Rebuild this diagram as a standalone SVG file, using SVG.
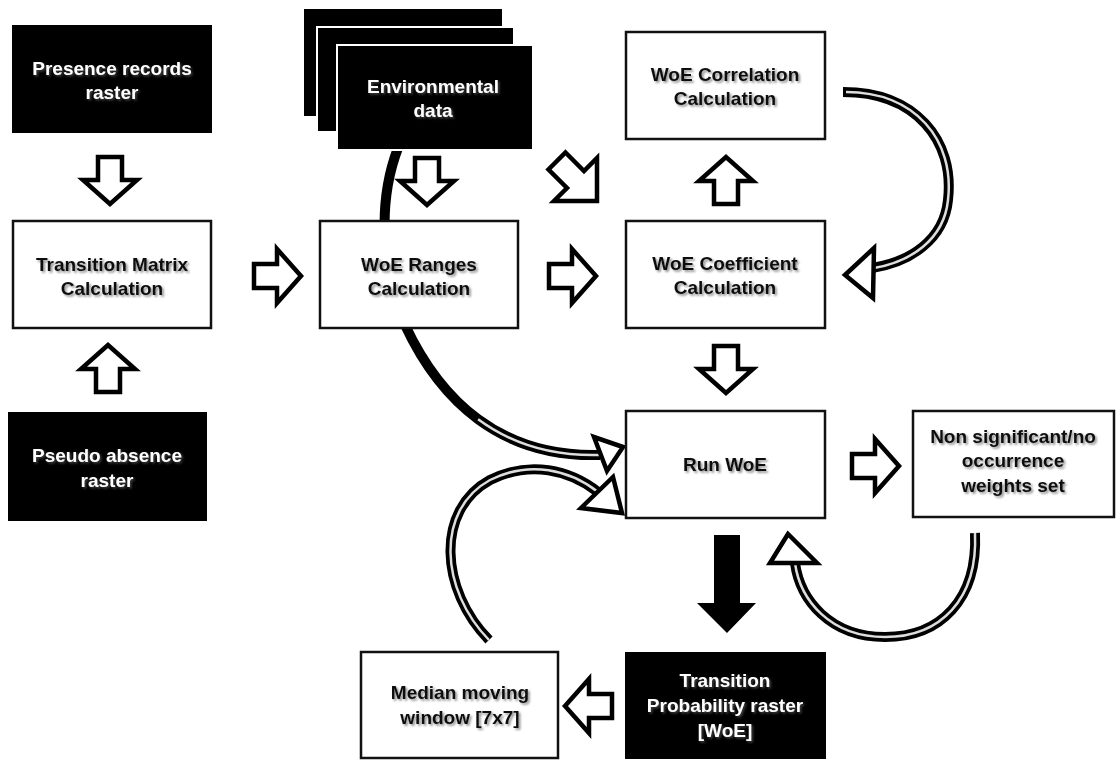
<svg xmlns="http://www.w3.org/2000/svg" xmlns:xlink="http://www.w3.org/1999/xlink" width="1120" height="760" viewBox="0 0 1120 760">
<style>
.wbox{fill:#fff;stroke:#111;stroke-width:2.5}
.bbox{fill:#000}
.stk{fill:#000;stroke:#fff;stroke-width:2}
.t{font-family:"Liberation Sans",Arial,sans-serif;font-weight:bold;font-size:19px;text-anchor:middle}
.dk{fill:#111;filter:url(#sh)}
.lt{fill:#fff;filter:url(#sh2)}
.blk{fill:#fff;stroke:#000;stroke-width:4.5;stroke-linejoin:miter}
.sh-o{fill:none;stroke:#000;stroke-width:10;stroke-linecap:butt}
.sh-i{fill:none;stroke:#ddd;stroke-width:2.5;stroke-linecap:butt}
.hd{fill:#fff;stroke:#000;stroke-width:4.5;stroke-linejoin:miter}
</style>
<defs>
<filter id="sh" x="-10%" y="-30%" width="130%" height="170%"><feDropShadow dx="1.8" dy="1.8" stdDeviation="1.2" flood-color="#000" flood-opacity="0.45"/></filter>
<filter id="sh2" x="-10%" y="-30%" width="130%" height="170%"><feDropShadow dx="1.5" dy="1.5" stdDeviation="1" flood-color="#888" flood-opacity="0.5"/></filter>
<path id="ba" d="M-23,-12 L0,-12 L0,-27 L24,0 L0,27 L0,12 L-23,12 Z"/>
</defs>
<rect width="1120" height="760" fill="#fff"/>

<g id="connectors">
  <!-- block arrows -->
  <use xlink:href="#ba" class="blk" transform="translate(110,180) rotate(90)"/>
  <use xlink:href="#ba" class="blk" transform="translate(108,369) rotate(-90)"/>
  <use xlink:href="#ba" class="blk" transform="translate(277,276)"/>
  <use xlink:href="#ba" class="blk" transform="translate(427,181) rotate(90)"/>
  <polygon class="blk" points="565.5,152.5 584,171 597,158 597,201 554,201 567,188 548.5,169.5"/>
  <use xlink:href="#ba" class="blk" transform="translate(572,276)"/>
  <use xlink:href="#ba" class="blk" transform="translate(726,181) rotate(-90)"/>
  <use xlink:href="#ba" class="blk" transform="translate(726,369) rotate(90)"/>
  <use xlink:href="#ba" class="blk" transform="translate(875,466)"/>
  <use xlink:href="#ba" class="blk" transform="translate(589,706) rotate(180)"/>
  <!-- solid black arrow -->
  <polygon points="714,535 740,535 740,603 756,603 727,633 697,603 714,603" fill="#000"/>
  <!-- curved: correlation -> coefficient -->
  <path class="sh-o" d="M843,92 C915,92 955,140 948,200 C944,240 910,262 872,268"/>
  <path class="sh-i" d="M846,92 C915,92 955,140 948,200 C944,240 910,262 874,268"/>
  <polygon class="hd" points="845,275 874,248 873,298"/>
  <!-- curved: environmental data -> run WoE -->
  <path class="sh-o" d="M398,148 C380,195 378,260 405,325 C440,400 500,458 600,455"/>
  <path class="sh-i" d="M478.1,419.25 C510,442.75 550,456.5 600,455"/>
  <polygon class="hd" points="623,447 594,437 607,471"/>
  <!-- curved: median -> run WoE -->
  <path class="sh-o" d="M489,640 C440,590 435,510 490,480 C530,460 570,470 598,492"/>
  <path class="sh-i" d="M489,640 C440,590 435,510 490,480 C530,460 570,470 598,492"/>
  <polygon class="hd" points="622,513 613,477 581,508"/>
  <!-- curved: non significant -> run WoE -->
  <path class="sh-o" d="M975,533 C978,600 940,637 885,637 C830,637 800,600 795,563"/>
  <path class="sh-i" d="M975,533 C978,600 940,637 885,637 C830,637 800,600 795,563"/>
  <polygon class="hd" points="788,534 770,563 817,563"/>
</g>

<g id="presence">
  <rect class="bbox" x="12" y="25" width="200" height="108"/>
  <text class="t lt" x="112" y="75">Presence records</text>
  <text class="t lt" x="112" y="99">raster</text>
</g>
<g id="transition-matrix">
  <rect class="wbox" x="13" y="221" width="198" height="107"/>
  <text class="t dk" x="112" y="271">Transition Matrix</text>
  <text class="t dk" x="112" y="295">Calculation</text>
</g>
<g id="pseudo-absence">
  <rect class="bbox" x="8" y="412" width="199" height="109"/>
  <text class="t lt" x="107" y="462">Pseudo absence</text>
  <text class="t lt" x="107" y="487">raster</text>
</g>
<g id="environmental-data">
  <rect class="stk" x="303" y="8" width="200" height="109"/>
  <rect class="stk" x="317" y="27" width="197" height="105"/>
  <rect class="stk" x="337" y="45" width="196" height="105"/>
  <text class="t lt" x="433" y="93">Environmental</text>
  <text class="t lt" x="433" y="117">data</text>
</g>
<g id="woe-ranges">
  <rect class="wbox" x="320" y="221" width="198" height="107"/>
  <text class="t dk" x="419" y="271">WoE Ranges</text>
  <text class="t dk" x="419" y="295">Calculation</text>
</g>
<g id="woe-correlation">
  <rect class="wbox" x="626" y="32" width="199" height="107"/>
  <text class="t dk" x="725" y="81">WoE Correlation</text>
  <text class="t dk" x="725" y="105">Calculation</text>
</g>
<g id="woe-coefficient">
  <rect class="wbox" x="626" y="221" width="199" height="107"/>
  <text class="t dk" x="725" y="270">WoE Coefficient</text>
  <text class="t dk" x="725" y="294">Calculation</text>
</g>
<g id="run-woe">
  <rect class="wbox" x="626" y="411" width="199" height="107"/>
  <text class="t dk" x="725" y="471">Run WoE</text>
</g>
<g id="non-significant">
  <rect class="wbox" x="913" y="411" width="201" height="106"/>
  <text class="t dk" x="1013" y="443">Non significant/no</text>
  <text class="t dk" x="1013" y="467">occurrence</text>
  <text class="t dk" x="1013" y="492">weights set</text>
</g>
<g id="transition-probability">
  <rect class="bbox" x="625" y="652" width="201" height="107"/>
  <text class="t lt" x="725" y="687">Transition</text>
  <text class="t lt" x="725" y="712">Probability raster</text>
  <text class="t lt" x="725" y="737">[WoE]</text>
</g>
<g id="median-window">
  <rect class="wbox" x="361" y="652" width="197" height="106"/>
  <text class="t dk" x="460" y="699">Median moving</text>
  <text class="t dk" x="460" y="724">window [7x7]</text>
</g>
</svg>
